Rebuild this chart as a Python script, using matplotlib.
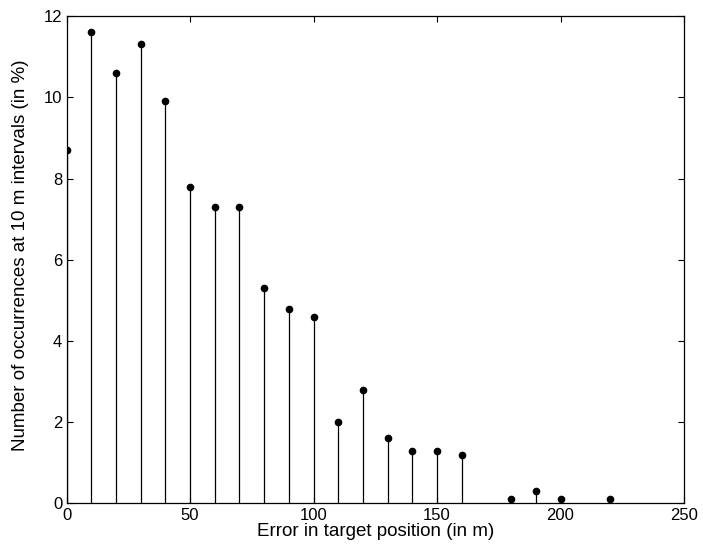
import matplotlib
matplotlib.use("Agg")
import matplotlib.pyplot as plt

plt.rcParams['font.family'] = ['Liberation Sans', 'DejaVu Sans']

# error bins (m) and share of occurrences (%)
error_m = [0, 10, 20, 30, 40, 50, 60, 70, 80, 90, 100, 110, 120, 130, 140, 150, 160,
           180, 190, 200, 220]
occurrences = [8.7, 11.6, 10.6, 11.3, 9.9, 7.8, 7.3, 7.3, 5.3, 4.8, 4.6, 2.0, 2.8, 1.6,
               1.3, 1.3, 1.2, 0.1, 0.3, 0.1, 0.1]
xticks = [0, 50, 100, 150, 200, 250]
yticks = [0, 2, 4, 6, 8, 10, 12]

fig = plt.figure(figsize=(7.03, 5.6), dpi=100)
ax = fig.add_axes([0.0946, 0.1009, 0.973 - 0.0946, 0.9714 - 0.1009])

markerline, stemlines, baseline = ax.stem(error_m, occurrences, linefmt='k-', markerfmt='ko',
                                          basefmt=' ')
stemlines.set_linewidth(0.9)
markerline.set_markersize(4.5)

ax.set_xlim(0, 250)
ax.set_ylim(0, 12)
ax.set_xticks(xticks)
ax.set_yticks(yticks)
ax.tick_params(direction='in', top=True, right=True, labelsize=12, length=4, width=0.8, pad=3)
for s in ax.spines.values():
    s.set_linewidth(0.9)

ax.set_xlabel("Error in target position (in m)", fontsize=13.5, labelpad=0)
ax.set_ylabel("Number of occurrences at 10 m intervals (in %)", fontsize=13.5)
ax.yaxis.set_label_coords(-0.061, 0.51)

fig.savefig("out.png", dpi=100)
